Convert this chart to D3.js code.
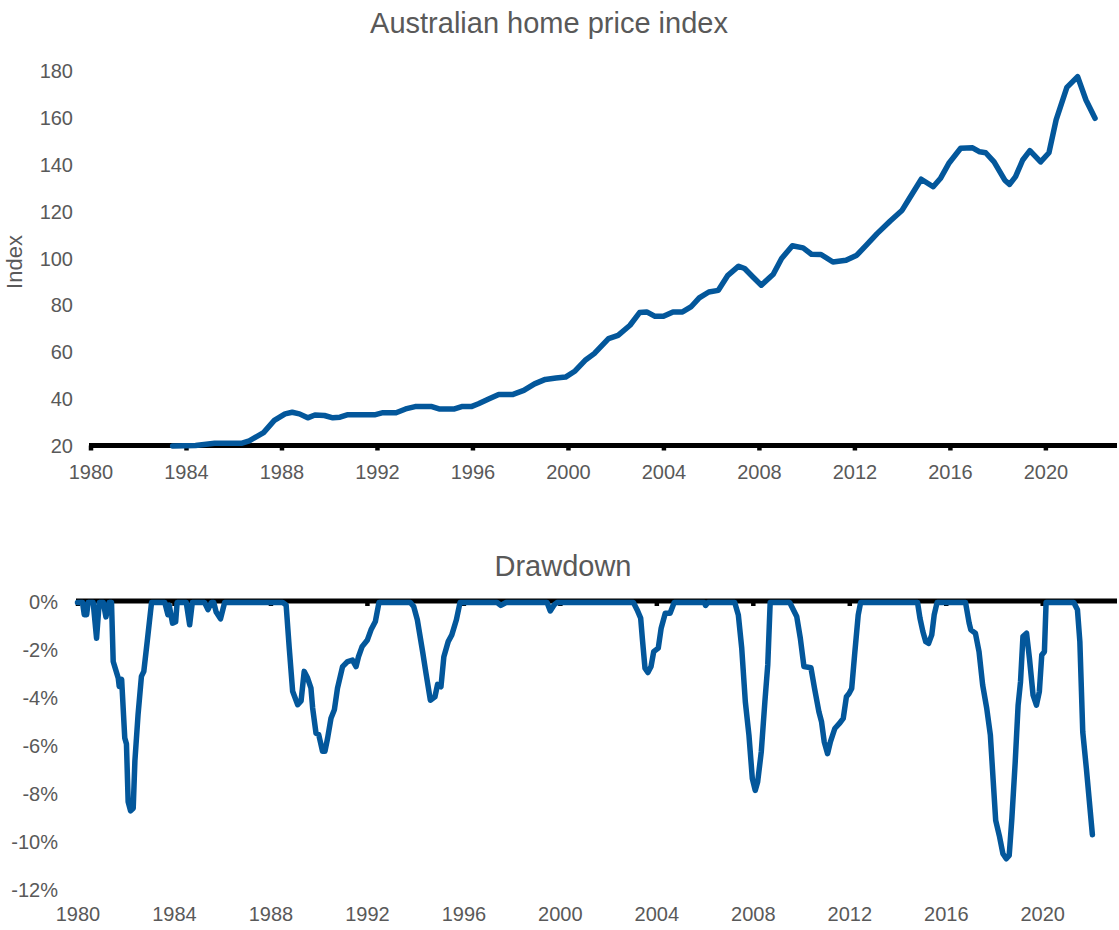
<!DOCTYPE html>
<html>
<head>
<meta charset="utf-8">
<script src="https://cdn.jsdelivr.net/npm/d3@7"></script>
<style>
  html, body { margin: 0; padding: 0; background: #fff; }
  svg { display: block; }
  text { font-family: "Liberation Sans", Arial, sans-serif; fill: #595959; }
</style>
</head>
<body>
<svg id="chart" width="1119" height="930"></svg>
<script>
// ---------------- DATA ----------------
const yearTicks = [1980, 1984, 1988, 1992, 1996, 2000, 2004, 2008, 2012, 2016, 2020];
const indexTicks = [20, 40, 60, 80, 100, 120, 140, 160, 180];
const drawdownTicks = [0, -2, -4, -6, -8, -10, -12];

// Home price index (decimal year, index level)
const indexYears = [
  1983.44, 1984.4, 1985.2, 1986.35, 1986.65, 1987.25, 1987.7, 1988.15, 1988.45, 1988.75,
  1989.1, 1989.4, 1989.8, 1990.15, 1990.45, 1990.75, 1991.9, 1992.25, 1992.8, 1993.2,
  1993.6, 1994.3, 1994.6, 1995.25, 1995.55, 1995.95, 1996.25, 1996.7, 1997.1, 1997.7,
  1998.15, 1998.6, 1999.05, 1999.5, 1999.9, 2000.3, 2000.75, 2001.1, 2001.7, 2002.1,
  2002.6, 2003.0, 2003.3, 2003.65, 2004.0, 2004.4, 2004.8, 2005.15, 2005.5, 2005.9,
  2006.3, 2006.7, 2007.15, 2007.4, 2007.75, 2008.1, 2008.6, 2008.95, 2009.4, 2009.85,
  2010.2, 2010.6, 2011.1, 2011.65, 2012.1, 2012.5, 2012.95, 2013.5, 2014.0, 2014.3,
  2014.8, 2015.3, 2015.6, 2015.95, 2016.45, 2016.95, 2017.25, 2017.5, 2017.85, 2018.3,
  2018.5, 2018.75, 2019.05, 2019.35, 2019.8, 2020.15, 2020.45, 2020.9, 2021.35, 2021.7,
  2022.08
];
const indexValues = [
  19.8, 20.0, 21.0, 21.0, 22.0, 25.5, 30.7, 33.5, 34.2, 33.5,
  31.8, 33.0, 32.8, 31.8, 32.1, 33.1, 33.1, 34.0, 34.0, 35.6,
  36.6, 36.6, 35.6, 35.6, 36.6, 36.6, 37.8, 39.9, 41.8, 41.8,
  43.5, 46.3, 48.2, 48.8, 49.2, 51.8, 56.6, 59.2, 65.6, 67.0,
  71.3, 76.7, 77.0, 75.1, 75.1, 77.0, 77.0, 79.1, 83.0, 85.5,
  86.2, 92.6, 96.5, 95.5, 91.9, 88.4, 93.1, 99.8, 105.2, 104.3,
  101.6, 101.5, 98.3, 99.0, 101.2, 105.5, 110.4, 115.8, 120.4, 125.4,
  133.6, 130.4, 133.9, 140.3, 146.8, 147.0, 145.3, 144.9, 141.0, 133.2,
  131.4, 134.7, 141.8, 145.8, 141.0, 144.9, 158.9, 172.8, 177.4, 167.4,
  159.6
];

// Drawdown from previous peak (decimal year, percent)
const drawdownYears = [
  1980.0, 1980.21, 1980.28, 1980.38, 1980.44, 1980.65, 1980.79, 1980.9, 1981.07, 1981.18,
  1981.31, 1981.41, 1981.48, 1981.69, 1981.73, 1981.83, 1981.96, 1982.03, 1982.1, 1982.2,
  1982.31, 1982.38, 1982.51, 1982.65, 1982.75, 1982.89, 1983.07, 1983.62, 1983.75, 1983.8,
  1983.94, 1984.07, 1984.13, 1984.51, 1984.65, 1984.76, 1985.27, 1985.41, 1985.55, 1985.65,
  1985.75, 1985.93, 1986.1, 1988.51, 1988.65, 1988.78, 1988.92, 1989.13, 1989.27, 1989.4,
  1989.54, 1989.68, 1989.75, 1989.89, 1990.0, 1990.16, 1990.26, 1990.37, 1990.51, 1990.65,
  1990.78, 1990.99, 1991.2, 1991.4, 1991.55, 1991.65, 1991.8, 1992.02, 1992.17, 1992.35,
  1992.5, 1993.8, 1993.94, 1994.09, 1994.31, 1994.45, 1994.63, 1994.82, 1994.93, 1995.07,
  1995.19, 1995.37, 1995.52, 1995.71, 1995.86, 1997.4, 1997.55, 1997.77, 1999.47, 1999.6,
  1999.76, 1999.88, 2003.05, 2003.2, 2003.35, 2003.42, 2003.53, 2003.65, 2003.78, 2003.89,
  2004.08, 2004.2, 2004.37, 2004.57, 2004.74, 2005.99, 2006.04, 2006.14, 2007.25, 2007.4,
  2007.54, 2007.69, 2007.84, 2007.98, 2008.1, 2008.2, 2008.35, 2008.5, 2008.62, 2008.72,
  2009.53, 2009.68, 2009.82, 2009.97, 2010.12, 2010.41, 2010.56, 2010.74, 2010.85, 2010.96,
  2011.1, 2011.22, 2011.4, 2011.59, 2011.75, 2011.88, 2011.99, 2012.1, 2012.22, 2012.37,
  2012.47, 2014.83, 2014.93, 2015.05, 2015.17, 2015.29, 2015.42, 2015.52, 2015.64, 2016.82,
  2016.97, 2017.04, 2017.23, 2017.38, 2017.53, 2017.7, 2017.85, 2017.97, 2018.07, 2018.22,
  2018.37, 2018.51, 2018.63, 2018.74, 2018.88, 2019.0, 2019.1, 2019.2, 2019.35, 2019.47,
  2019.62, 2019.76, 2019.88, 2019.98, 2020.09, 2020.16, 2021.31, 2021.46, 2021.56, 2021.68,
  2021.83, 2022.08
];
const drawdownValues = [
  0, 0, -0.51, -0.51, 0, 0, -1.49, 0, 0, -0.6,
  0, 0, -2.46, -3.15, -3.5, -3.2, -5.65, -5.9, -8.3, -8.68,
  -8.57, -6.6, -4.68, -3.08, -2.87, -1.63, 0, 0, -0.51, -0.1,
  -0.86, -0.8, 0, 0, -0.93, 0, 0, -0.3, 0, 0,
  -0.4, -0.68, 0, 0, -0.1, -1.9, -3.7, -4.26, -4.1, -2.87,
  -3.15, -3.57, -4.4, -5.45, -5.5, -6.2, -6.2, -5.65, -4.82, -4.47,
  -3.57, -2.67, -2.46, -2.4, -2.67, -2.26, -1.84, -1.56, -1.14, -0.79,
  0, 0, -0.17, -0.72, -2.05, -2.95, -4.07, -3.93, -3.41, -3.51,
  -2.26, -1.63, -1.35, -0.72, 0, 0, -0.12, 0, 0, -0.35,
  -0.1, 0, 0, -0.3, -0.65, -1.5, -2.74, -2.92, -2.67, -2.05,
  -1.9, -1.07, -0.45, -0.45, 0, 0, -0.12, 0, 0, -0.52,
  -1.9, -4.14, -5.53, -7.34, -7.83, -7.48, -6.23, -4.14, -2.6, 0,
  0, -0.3, -0.58, -1.49, -2.67, -2.72, -3.58, -4.55, -4.97, -5.8,
  -6.3, -5.8, -5.25, -5.04, -4.83, -3.93, -3.79, -3.58, -2.19, -0.52,
  0, 0, -0.65, -1.21, -1.63, -1.7, -1.35, -0.52, 0, 0,
  -0.86, -1.14, -1.28, -2.05, -3.44, -4.42, -5.53, -7.48, -9.08, -9.71,
  -10.47, -10.68, -10.54, -9.01, -6.64, -4.28, -3.3, -1.42, -1.28, -2.33,
  -3.86, -4.28, -3.72, -2.19, -2.05, 0, 0, -0.3, -1.63, -5.39,
  -6.92, -9.68
];

// ---------------- DRAW ----------------
const svg = d3.select("#chart");
const LINE_COLOR = "#03579b";
const TEXT_COLOR = "#595959";

function drawPanel(cfg) {
  const g = svg.append("g");
  const x = d3.scaleLinear().domain(cfg.xDomain).range(cfg.xRange);
  const y = d3.scaleLinear().domain(cfg.yDomain).range(cfg.yRange);

  // title
  g.append("text")
    .attr("x", cfg.titleX).attr("y", cfg.titleY)
    .attr("text-anchor", "middle")
    .style("font-size", "29px")
    .text(cfg.title);

  // y axis labels (no axis line)
  const yAxis = d3.axisLeft(y).tickValues(cfg.yTicks).tickSize(0).tickPadding(0)
    .tickFormat(cfg.yFormat);
  const ya = g.append("g").attr("transform", `translate(${cfg.yLabelX},0)`).call(yAxis);
  ya.select(".domain").remove();
  ya.selectAll("text").style("font-size", "20px").style("fill", TEXT_COLOR)
    .attr("dy", "0.35em");
  ya.attr("font-family", null);

  // x axis (thick black line at baseline) with outside ticks
  const axisY = y(cfg.axisAt);
  const xAxis = d3.axisBottom(x).tickValues(yearTicks).tickSize(0).tickPadding(0)
    .tickFormat(d3.format("d"));
  const xa = g.append("g").attr("transform", `translate(0,${axisY})`).call(xAxis);
  xa.attr("font-family", null);
  xa.select(".domain").remove();
  xa.selectAll(".tick text").attr("y", cfg.xLabelOffset).attr("dy", "0.35em")
    .style("font-size", "20px").style("fill", TEXT_COLOR);
  xa.selectAll(".tick").append("line")
    .attr("x1", 0).attr("x2", 0).attr("y1", 0).attr("y2", 5)
    .attr("stroke", "#000").attr("stroke-width", 4.5);
  g.append("line")
    .attr("x1", cfg.xRange[0] - 1.5).attr("x2", cfg.xRange[1])
    .attr("y1", axisY).attr("y2", axisY)
    .attr("stroke", "#000").attr("stroke-width", 5);

  // series line (drawn over the axis)
  const data = cfg.xs.map((d, i) => [d, cfg.ys[i]]);
  const line = d3.line().x(d => x(d[0])).y(d => y(d[1]) + cfg.lineShift);
  g.append("path").datum(data)
    .attr("fill", "none").attr("stroke", LINE_COLOR)
    .attr("stroke-width", 5.5).attr("stroke-linejoin", "round").attr("stroke-linecap", "round")
    .attr("d", line);
  return { x, y, g };
}

drawPanel({
  title: "Australian home price index", titleX: 549, titleY: 33,
  xDomain: [1980, 2023], xRange: [90.5, 1117],
  yDomain: [20, 180], yRange: [445.5, 70.5],
  yTicks: indexTicks, yFormat: d3.format("d"), yLabelX: 73,
  xs: indexYears, ys: indexValues, axisAt: 20, xLabelOffset: 26, lineShift: 0
});

// y axis title
svg.append("text")
  .attr("transform", "translate(22,262) rotate(-90)")
  .attr("text-anchor", "middle")
  .style("font-size", "22px")
  .text("Index");

drawPanel({
  title: "Drawdown", titleX: 563, titleY: 576,
  xDomain: [1980, 2023.1], xRange: [77.5, 1117],
  yDomain: [0, -12], yRange: [601, 889],
  yTicks: drawdownTicks, yFormat: d => d + "%", yLabelX: 58,
  xs: drawdownYears, ys: drawdownValues, axisAt: 0, xLabelOffset: 313, lineShift: 1.5
});
</script>
</body>
</html>
